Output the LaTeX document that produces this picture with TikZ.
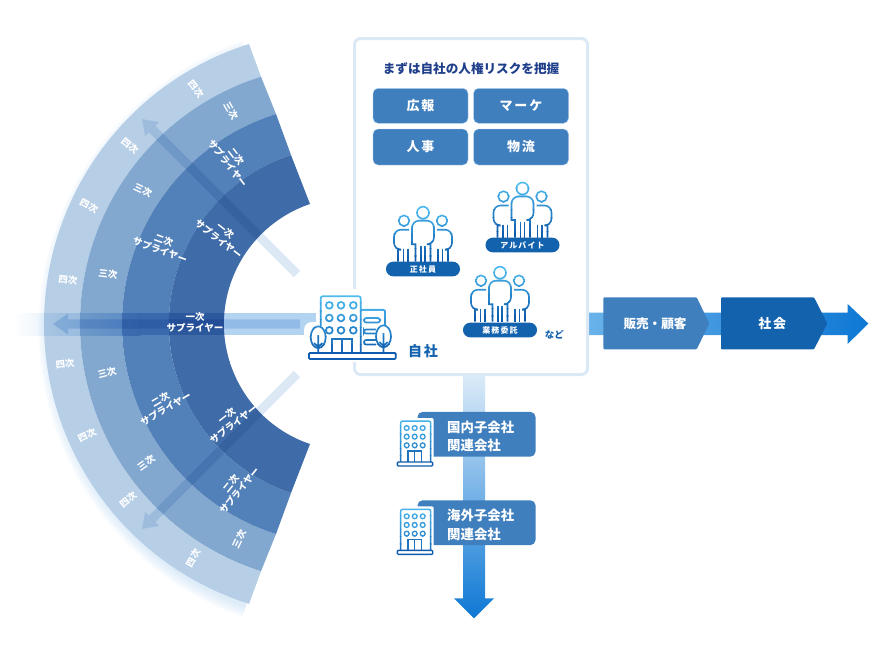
\documentclass[tikz,border=0pt]{standalone}
\usepackage{fontspec}
\setmainfont{Noto Sans CJK JP}
\newfontfamily\jpwide{Noto Sans CJK JP}[LetterSpace=14]
\definecolor{ringfour}{HTML}{B6CEE6}
\definecolor{ringthreea}{HTML}{82A8D0}
\definecolor{ringthreeb}{HTML}{8AB0D6}
\definecolor{ringtwoa}{HTML}{5280B8}
\definecolor{ringtwob}{HTML}{6092C4}
\definecolor{ringonea}{HTML}{3F6CA8}
\definecolor{ringoneb}{HTML}{4F85BE}
\definecolor{glowblue}{HTML}{A8CEEE}
\definecolor{bandblue}{HTML}{B3D4F1}
\definecolor{fanarrow}{HTML}{DCE8F4}
\definecolor{bandarrow}{HTML}{D0E2F5}
\definecolor{panelline}{HTML}{DBE8F5}
\definecolor{midblue}{HTML}{407FBE}
\definecolor{deepblue}{HTML}{1262AE}
\definecolor{titleblue}{HTML}{1F3F8A}
\definecolor{flowlight}{HTML}{DDECF9}
\definecolor{flowmid}{HTML}{6AB2EA}
\definecolor{flowdark}{HTML}{0E78D4}
\definecolor{iconlight}{HTML}{4DBBF0}
\definecolor{icondark}{HTML}{0E5CAE}
\tikzset{
  flabel/.style={text=white, font=\fontsize{9.5}{11}\selectfont\bfseries, align=center, inner sep=0pt},
  btn/.style={fill=midblue, draw=bandblue, line width=0.4pt, rounded corners=5pt, text=white, minimum width=95pt, minimum height=35pt, font=\fontsize{13}{15}\selectfont\bfseries\jpwide},
  pill/.style={fill=deepblue, rounded corners=7.2pt, text=white, minimum width=74pt, minimum height=14.6pt, inner sep=0pt, font=\fontsize{8}{9}\selectfont\bfseries\jpwide},
  tag/.style={fill=midblue, rounded corners=5pt, text=white, text width=118pt, minimum height=44.7pt, inner sep=0pt, align=left, anchor=west, font=\fontsize{13.4}{18.5}\selectfont\bfseries},
  flowtext/.style={text=white, inner sep=0pt, font=\fontsize{12.6}{14}\selectfont\bfseries},
}
% one fan arrow, pointing along its own x axis
\newcommand{\fanarrowshape}[7]{
  \fill[#7, blend mode=multiply, shift={(#1,#2)}, rotate=#3]
    (0,-#5) -- (#4-#6,-#5) -- (#4-#6,-#6*0.7) -- (#4,0) -- (#4-#6,#6*0.7) -- (#4-#6,#5) -- (0,#5) -- cycle;
}
% three people, head of the middle one at the origin
\newcommand{\peoplelines}{
  \draw (0,0) circle[radius=6];
  \draw (-19,8) circle[radius=5.3];
  \draw (19,8) circle[radius=5.3];
  \draw[rounded corners=7pt] (-7.5,49) [sharp corners] -- (-7.5,31.5) -- (-11,31.5) [rounded corners=7pt] -- (-11,8) -- (11,8) -- (11,31.5) [sharp corners] -- (7.5,31.5) -- (7.5,49);
  \draw (-2,33) -- (-2,49);
  \draw (2,33) -- (2,49);
  \draw[rounded corners=7pt] (-14,17) -- (-29,17) -- (-29,37) [sharp corners] -- (-25,37) -- (-25,49);
  \draw[rounded corners=7pt] (14,17) -- (29,17) -- (29,37) [sharp corners] -- (25,37) -- (25,49);
  \draw (-19.5,36) -- (-19.5,49);
  \draw (-15,36) -- (-15,49);
  \draw (19.5,36) -- (19.5,49);
  \draw (15,36) -- (15,49);
}
\newcommand{\peopleicon}[2]{
  \begin{scope}[shift={(#1,#2)}, line width=1.6pt]
    \foreach \i in {0,...,7} {
      \pgfmathsetmacro\bandtop{-8+\i*7.3}
      \pgfmathsetmacro\bandbot{-8+(\i+1)*7.3+0.2}
      \pgfmathtruncatemacro\mixv{100-\i*100/7}
      \begin{scope}[color=iconlight!\mixv!icondark]
        \clip (-35,\bandtop) rectangle (35,\bandbot);
        \peoplelines
      \end{scope}
    }
  \end{scope}
}
% small office block, top left corner of the tower at the origin
\newcommand{\smalloffice}[2]{
  \begin{scope}[shift={(#1,#2)}]
    \fill[white, rounded corners=2pt] (-3,-3) rectangle (33,41);
    \fill[white] (-4.5,36) rectangle (33,46);
    \foreach \i in {0,...,5} {
      \pgfmathsetmacro\bandtop{-1.5+\i*7.2}
      \pgfmathsetmacro\bandbot{-1.5+(\i+1)*7.2+0.2}
      \pgfmathtruncatemacro\mixv{90-\i*60/5}
      \begin{scope}[color=iconlight!\mixv!icondark, line width=1.5pt]
        \clip (-5,\bandtop) rectangle (35,\bandbot);
        \draw[rounded corners=2pt] (0,41) -- (0,0) -- (30,0) -- (30,41);
        \foreach \cy in {7,15.7,24.3} {
          \foreach \cx in {6,14,22} {
            \draw[line width=1.3pt] (\cx,\cy) circle[radius=2.4];
          }
        }
      \end{scope}
    }
    \draw[icondark!75!iconlight, line width=1.2pt] (7.3,41) -- (7.3,30) -- (21,30) -- (21,41) (14,30) -- (14,41);
    \draw[icondark, line width=1.4pt, fill=white, rounded corners=1pt] (-3.4,41) rectangle (32,45);
  \end{scope}
}
\begin{document}
\begin{tikzpicture}[x=1pt, y=-1pt]
\useasboundingbox (0,0) rectangle (883,648);
% glow behind the fan
\foreach \w in {3,6,...,24} {
  \draw[glowblue, line width=\w pt, opacity=0.06] (246,52) arc[start angle=250.5, end angle=109.5, radius=293.7];
}
% rings of the fan
\fill[ringfour] (249,44) arc[start angle=252.4, end angle=107.6, radius=293.7] -- (261,571.3) arc[start angle=107.6, end angle=252.4, radius=259.4] -- cycle;
\shade[top color=ringthreea, middle color=ringthreeb, bottom color=ringthreea] (261,76.7) arc[start angle=252.4, end angle=107.6, radius=259.4] -- (276,534) arc[start angle=107.5, end angle=252.5, radius=220.2] -- cycle;
\shade[top color=ringtwoa, middle color=ringtwob, bottom color=ringtwoa] (276,114) arc[start angle=252.5, end angle=107.5, radius=220.2] -- (291,493) arc[start angle=108.3, end angle=251.7, radius=178] -- cycle;
\shade[top color=ringonea, middle color=ringoneb, bottom color=ringonea] (291,155) arc[start angle=251.7, end angle=108.3, radius=178] -- (310,444) arc[start angle=108.7, end angle=251.3, radius=126.7] -- cycle;
% band and arrows across the fan
\shade[left color=white, right color=bandblue, blend mode=multiply] (12,313) rectangle (140,335);
\fill[bandblue, blend mode=multiply] (140,313) rectangle (316,335);
\fanarrowshape{300}{324}{180}{247}{4.7}{15}{bandarrow}
\fanarrowshape{297}{274}{135}{219}{4.5}{14}{fanarrow}
\fanarrowshape{297}{374}{225}{219}{4.5}{14}{fanarrow}
% labels on the fan, top to bottom
\node (fourA) [flabel, rotate=-52] at (196,89) {四次};
\node (threeA) [flabel, rotate=-60] at (231,111) {三次};
\node (twoA) [flabel, rotate=-52] at (232,160) {二次\\サプライヤー};
\node (oneA) [flabel, rotate=-38] at (222,235) {一次\\サプライヤー};
\node (fourB) [flabel, rotate=-40] at (130,146) {四次};
\node (threeB) [flabel, rotate=-25] at (143,190) {三次};
\node (twoB) [flabel, rotate=-20] at (162,245) {二次\\サプライヤー};
\node (fourC) [flabel, rotate=-27] at (89,206) {四次};
\node (fourD) [flabel, rotate=-6] at (68,280) {四次};
\node (threeD) [flabel, rotate=-7] at (108,274) {三次};
\node (oneE) [flabel] at (195,322) {一次\\サプライヤー};
\node (fourF) [flabel, rotate=7] at (65,364) {四次};
\node (threeF) [flabel, rotate=15] at (107,373) {三次};
\node (twoF) [flabel, rotate=30] at (163,404) {二次\\サプライヤー};
\node (oneF) [flabel, rotate=38] at (230,420) {一次\\サプライヤー};
\node (fourG) [flabel, rotate=25] at (87,435) {四次};
\node (threeG) [flabel, rotate=35] at (146,463) {三次};
\node (fourH) [flabel, rotate=40] at (128,500) {四次};
\node (twoH) [flabel, rotate=51] at (235,487) {二次\\サプライヤー};
\node (threeH) [flabel, rotate=65] at (239,539) {三次};
\node (fourI) [flabel, rotate=60] at (193,558) {四次};
% flows out of the panel
\shade[left color=flowmid, right color=flowdark] (586,312.5) -- (847.7,312.5) -- (847.7,304) -- (868.3,323.5) -- (847.7,344) -- (847.7,335) -- (586,335) -- cycle;
\shade[top color=flowlight, bottom color=flowdark] (463,373) -- (485,373) -- (485,598.3) -- (494,598.3) -- (474,618.3) -- (454,598.3) -- (463,598.3) -- cycle;
\fill[midblue, rounded corners=1pt] (603.3,297.3) -- (696.7,297.3) -- (709.3,323.5) -- (696.7,349.3) -- (603.3,349.3) -- cycle;
\fill[deepblue, rounded corners=1pt] (721,297.3) -- (814,297.3) -- (827.3,323.5) -- (814,349.3) -- (721,349.3) -- cycle;
\node (sales) [flowtext] at (655,323.5) {販売・顧客};
\node (society) [flowtext, font=\fontsize{13}{15}\selectfont\bfseries\jpwide] at (772.3,323.5) {社会};
% panel
\draw[panelline, line width=3pt, fill=white, rounded corners=6pt] (354.5,38.5) rectangle (587.5,374.5);
\node (title) [text=titleblue, inner sep=0pt, font=\fontsize{12.6}{14}\selectfont\bfseries] at (471,69) {まずは自社の人権リスクを把握};
\node (pr) [btn] at (420.5,105.8) {広報};
\node (mkt) [btn] at (521,105.8) {マーケ};
\node (hr) [btn, minimum height=36pt] at (420.5,147) {人事};
\node (logi) [btn, minimum height=36pt] at (521,147) {物流};
\peopleicon{423}{212.7}
\peopleicon{522.5}{188.5}
\peopleicon{500}{272.7}
\node (regular) [pill] at (423,269) {正社員};
\node (parttime) [pill] at (522.5,245) {アルバイト};
\node (contract) [pill] at (500,330) {業務委託};
\node (etc) [text=deepblue, inner sep=0pt, font=\fontsize{9.5}{11}\selectfont\bfseries] at (554.3,335) {など};
% own company building
\fill[white, rounded corners=5pt] (316,289) rectangle (394,362);
\fill[white, rounded corners=8pt] (304,322) rectangle (330,362);
\foreach \i in {0,...,7} {
  \pgfmathsetmacro\bandtop{294+\i*8.4}
  \pgfmathsetmacro\bandbot{294+(\i+1)*8.4+0.2}
  \pgfmathtruncatemacro\mixv{100-\i*100/7}
  \begin{scope}[color=iconlight!\mixv!icondark, line width=1.7pt]
    \clip (300,\bandtop) rectangle (400,\bandbot);
    \draw[rounded corners=2pt] (320.7,326) -- (320.7,296.3) -- (360.7,296.3) -- (360.7,352);
    \draw[rounded corners=2pt] (360.7,309.7) -- (385,309.7) -- (385,326);
    \foreach \cy in {305.3,318,330.3} {
      \foreach \cx in {329.3,341,353.3} {
        \draw (\cx,\cy) circle[radius=3.4];
      }
    }
    \draw (331.7,353) -- (331.7,339) -- (351.7,339) -- (351.7,353) (341.7,339) -- (341.7,353);
    \draw[rounded corners=2.2pt] (364,318) rectangle (380,322.5);
    \draw[rounded corners=2.2pt] (376,329.5) -- (364,329.5) -- (364,333.5) -- (376,333.5);
    \draw[rounded corners=2.2pt] (376,340) -- (364,340) -- (364,344.5) -- (376,344.5);
    \draw[fill=white] (318.2,337.2) ellipse[x radius=7.5, y radius=10.9];
    \draw[fill=white] (383.5,336.3) ellipse[x radius=7.5, y radius=11];
    \draw (318.2,335) -- (318.2,353) (314,343) -- (318.2,347) -- (322.4,343);
    \draw (383.5,333) -- (383.5,353) (379.3,342) -- (383.5,346) -- (387.7,342);
    \draw[fill=white, rounded corners=1pt] (309,353) rectangle (395.7,359);
  \end{scope}
}
\node (self) [text=deepblue, inner sep=0pt, font=\fontsize{14}{16}\selectfont\bfseries\jpwide] at (423,351) {自社};
% group companies
\node (domestic) [tag] at (417.3,434.3) {\rule{0pt}{16pt}\hspace*{29.7pt}国内子会社\\\hspace*{29.7pt}関連会社};
\node (overseas) [tag] at (417.3,522.7) {\rule{0pt}{16pt}\hspace*{29.7pt}海外子会社\\\hspace*{29.7pt}関連会社};
\smalloffice{400.7}{421}
\smalloffice{400.7}{509.3}
\end{tikzpicture}
\end{document}
